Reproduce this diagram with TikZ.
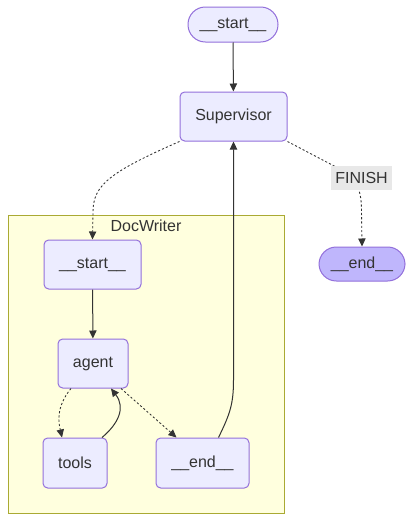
\documentclass[tikz,border=0pt]{standalone}
\usepackage{fontspec}
\setmainfont{Liberation Sans}
\usetikzlibrary{arrows.meta,calc}
\definecolor{nodefill}{HTML}{ECECFF}
\definecolor{nodedraw}{HTML}{9370DB}
\definecolor{endfill}{HTML}{BFB6FC}
\definecolor{clfill}{HTML}{FFFFDE}
\definecolor{cldraw}{HTML}{AAAA33}
\definecolor{edgec}{HTML}{333333}
\definecolor{lblfill}{HTML}{E8E8E8}
\tikzset{
  box/.style={draw=nodedraw, fill=nodefill, line width=0.75pt, rounded corners=3.5pt, text=edgec, font=\fontsize{12}{14}\selectfont, inner sep=0pt},
  pill/.style={box, rounded corners=13pt},
  edge/.style={draw=edgec, line width=0.75pt, -{Triangle[length=6pt,width=5.5pt]}},
  dotedge/.style={edge, line width=0.65pt, dash pattern=on 1.6pt off 1.6pt},
}
\begin{document}
\begin{tikzpicture}[x=0.75pt,y=-0.75pt]
\useasboundingbox (0,0) rectangle (413,521);
\fill[white] (0,0) rectangle (413,521);
% cluster
\node[draw=cldraw, fill=clfill, line width=0.75pt, minimum width=276*0.75pt, minimum height=298*0.75pt, inner sep=0pt] (cl) at (146,364) {};
\node[text=edgec, font=\fontsize{12}{14}\selectfont] (cllabel) at (146,226) {DocWriter};
% nodes
\node[pill, minimum width=90*0.75pt, minimum height=35*0.75pt] (start) at (233,24.5) {\_\_start\_\_};
\node[box, minimum width=107*0.75pt, minimum height=49*0.75pt] (sup) at (233.5,116.5) {Supervisor};
\node[pill, fill=endfill, minimum width=86*0.75pt, minimum height=34*0.75pt] (end) at (362,264) {\_\_end\_\_};
\node[box, minimum width=97*0.75pt, minimum height=49*0.75pt] (ds) at (92.5,264.5) {\_\_start\_\_};
\node[box, minimum width=70*0.75pt, minimum height=49*0.75pt] (agent) at (93,363.5) {agent};
\node[box, minimum width=64*0.75pt, minimum height=50*0.75pt] (tools) at (75,463) {tools};
\node[box, minimum width=93*0.75pt, minimum height=50*0.75pt] (de) at (202.5,463) {\_\_end\_\_};
% edges
\draw[edge] (start) -- (sup);
\draw[dotedge] (sup.south west) .. controls (110,172) and (93,185) .. (93,212) -- (ds.north);
\draw[dotedge] (sup.south east) -- (336,167) .. controls (360,182) and (361,192) .. (361.5,210) -- (end.north);
\node[fill=lblfill, text=edgec, font=\fontsize{12}{14}\selectfont, inner sep=0pt, minimum width=61*0.75pt, minimum height=24*0.75pt] (fin) at (361.5,178) {FINISH};
\draw[edge] (ds) -- (agent);
\coordinate (a1) at ($(agent.south)+(-22,0)$);
\coordinate (t1) at ($(tools.north)+(-13,0)$);
\draw[dotedge] (a1) .. controls (55,408) and (59,424) .. (t1);
\coordinate (t2) at ($(tools.north)+(27,0)$);
\coordinate (a2) at ($(agent.south)+(18,0)$);
\draw[edge] (t2) .. controls (118,424) and (126,408) .. (a2);
\coordinate (a3) at ($(agent.south)+(28,0)$);
\coordinate (d1) at ($(de.north)+(-26,0)$);
\draw[dotedge] (a3) -- (d1);
\coordinate (d2) at ($(de.north)+(16,0)$);
\draw[edge] (d2) .. controls (230,414) and (233.5,404) .. (233.5,380) -- (sup.south);
\end{tikzpicture}
\end{document}
